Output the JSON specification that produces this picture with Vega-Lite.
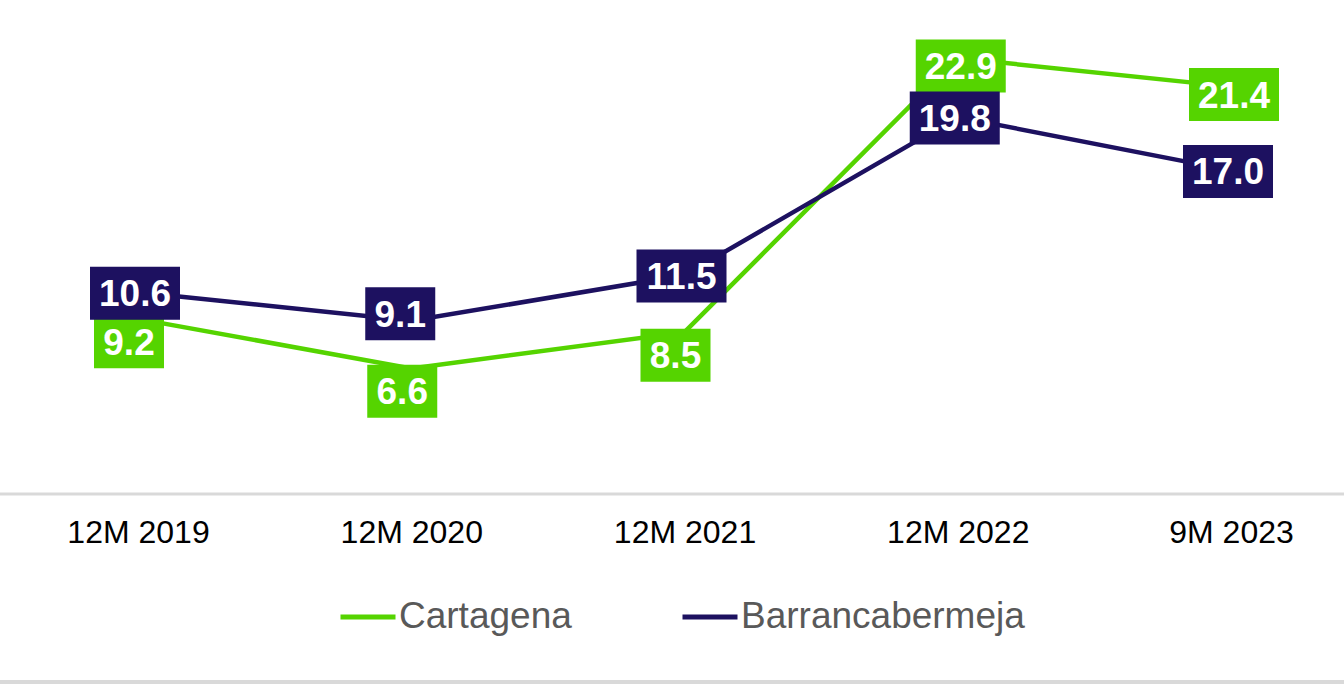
{
  "$schema": "https://vega.github.io/schema/vega-lite/v6.json",
  "width": 1344,
  "height": 680,
  "autosize": {"type": "none"},
  "padding": {"top": 0, "left": 0, "right": 0, "bottom": 4},
  "background": "#d9d9d9",
  "config": {"view": {"fill": "white", "stroke": null}, "font": "Liberation Sans"},
  "data": {
    "values": [
      {"series": "Cartagena", "period": "12M 2019", "value": 9.2},
      {"series": "Cartagena", "period": "12M 2020", "value": 6.6},
      {"series": "Cartagena", "period": "12M 2021", "value": 8.5},
      {"series": "Cartagena", "period": "12M 2022", "value": 22.9},
      {"series": "Cartagena", "period": "9M 2023", "value": 21.4},
      {"series": "Barrancabermeja", "period": "12M 2019", "value": 10.6},
      {"series": "Barrancabermeja", "period": "12M 2020", "value": 9.1},
      {"series": "Barrancabermeja", "period": "12M 2021", "value": 11.5},
      {"series": "Barrancabermeja", "period": "12M 2022", "value": 19.8},
      {"series": "Barrancabermeja", "period": "9M 2023", "value": 17.0}
    ]
  },
  "layer": [
    {
      "data": {"values": [{"base": 0}]},
      "mark": {"type": "rule", "color": "#d9d9d9", "strokeWidth": 3},
      "encoding": {
        "y": {"field": "base", "type": "quantitative", "scale": {"domain": [-9.77, 25.95], "nice": false, "zero": false}, "axis": null}
      }
    },
    {
      "encoding": {
        "x": {
          "field": "period", "type": "ordinal",
          "sort": ["12M 2019", "12M 2020", "12M 2021", "12M 2022", "9M 2023"],
          "scale": {"type": "point", "range": [138, 1231], "padding": 0},
          "axis": {"title": null, "orient": "bottom", "offset": -186, "domain": false, "ticks": false, "grid": false, "labelAngle": 0, "labelFontSize": 32, "labelColor": "#000000", "labelFont": "Liberation Sans", "labelPadding": 23}
        },
        "y": {"field": "value", "type": "quantitative", "scale": {"domain": [-9.77, 25.95], "nice": false, "zero": false}, "axis": null}
      },
      "layer": [
        {
          "mark": {"type": "line", "strokeWidth": 4.5, "strokeCap": "round"},
          "encoding": {
            "color": {
              "field": "series", "type": "nominal",
              "scale": {"domain": ["Cartagena", "Barrancabermeja"], "range": ["#55D400", "#1D1160"]},
              "legend": {"title": null, "orient": "none", "legendX": 338, "legendY": 587, "direction": "horizontal", "symbolType": "stroke", "symbolSize": 3025, "symbolStrokeWidth": 5, "labelFontSize": 37, "labelColor": "#595959", "labelFont": "Liberation Sans", "labelOffset": 1, "columnPadding": 100, "labelLimit": 0}
            }
          }
        },
        {
          "transform": [{"filter": "datum.series === 'Cartagena' && datum.value < 10"}],
          "layer": [
            {"mark": {"type": "point", "shape": "M-1,-0.757H1V0.757H-1Z", "size": 4900, "filled": true, "opacity": 1, "strokeWidth": 0, "xOffset": -9, "yOffset": 23},
             "encoding": {"fill": {"field": "series", "type": "nominal", "scale": {"domain": ["Cartagena", "Barrancabermeja"], "range": ["#55D400", "#1D1160"]}, "legend": null}}},
            {"mark": {"type": "text", "color": "white", "fontWeight": "bold", "fontSize": 37, "font": "Liberation Sans", "baseline": "middle", "xOffset": -9, "yOffset": 25},
             "encoding": {"text": {"field": "value", "type": "quantitative", "format": ".1f"}}}
          ]
        },
        {
          "transform": [{"filter": "datum.series === 'Cartagena' && datum.value >= 10"}],
          "layer": [
            {"mark": {"type": "point", "shape": "M-1,-0.589H1V0.589H-1Z", "size": 8100, "filled": true, "opacity": 1, "strokeWidth": 0, "xOffset": 3, "yOffset": 8},
             "encoding": {"fill": {"field": "series", "type": "nominal", "scale": {"domain": ["Cartagena", "Barrancabermeja"], "range": ["#55D400", "#1D1160"]}, "legend": null}}},
            {"mark": {"type": "text", "color": "white", "fontWeight": "bold", "fontSize": 37, "font": "Liberation Sans", "baseline": "middle", "xOffset": 3, "yOffset": 10},
             "encoding": {"text": {"field": "value", "type": "quantitative", "format": ".1f"}}}
          ]
        },
        {
          "transform": [{"filter": "datum.series === 'Barrancabermeja' && datum.value < 10"}],
          "layer": [
            {"mark": {"type": "point", "shape": "M-1,-0.757H1V0.757H-1Z", "size": 4900, "filled": true, "opacity": 1, "strokeWidth": 0, "xOffset": -11, "yOffset": -7},
             "encoding": {"fill": {"field": "series", "type": "nominal", "scale": {"domain": ["Cartagena", "Barrancabermeja"], "range": ["#55D400", "#1D1160"]}, "legend": null}}},
            {"mark": {"type": "text", "color": "white", "fontWeight": "bold", "fontSize": 37, "font": "Liberation Sans", "baseline": "middle", "xOffset": -11, "yOffset": -5},
             "encoding": {"text": {"field": "value", "type": "quantitative", "format": ".1f"}}}
          ]
        },
        {
          "transform": [{"filter": "datum.series === 'Barrancabermeja' && datum.value >= 10"}],
          "layer": [
            {"mark": {"type": "point", "shape": "M-1,-0.589H1V0.589H-1Z", "size": 8100, "filled": true, "opacity": 1, "strokeWidth": 0, "xOffset": -3, "yOffset": 1},
             "encoding": {"fill": {"field": "series", "type": "nominal", "scale": {"domain": ["Cartagena", "Barrancabermeja"], "range": ["#55D400", "#1D1160"]}, "legend": null}}},
            {"mark": {"type": "text", "color": "white", "fontWeight": "bold", "fontSize": 37, "font": "Liberation Sans", "baseline": "middle", "xOffset": -3, "yOffset": 3},
             "encoding": {"text": {"field": "value", "type": "quantitative", "format": ".1f"}}}
          ]
        }
      ]
    }
  ]
}
